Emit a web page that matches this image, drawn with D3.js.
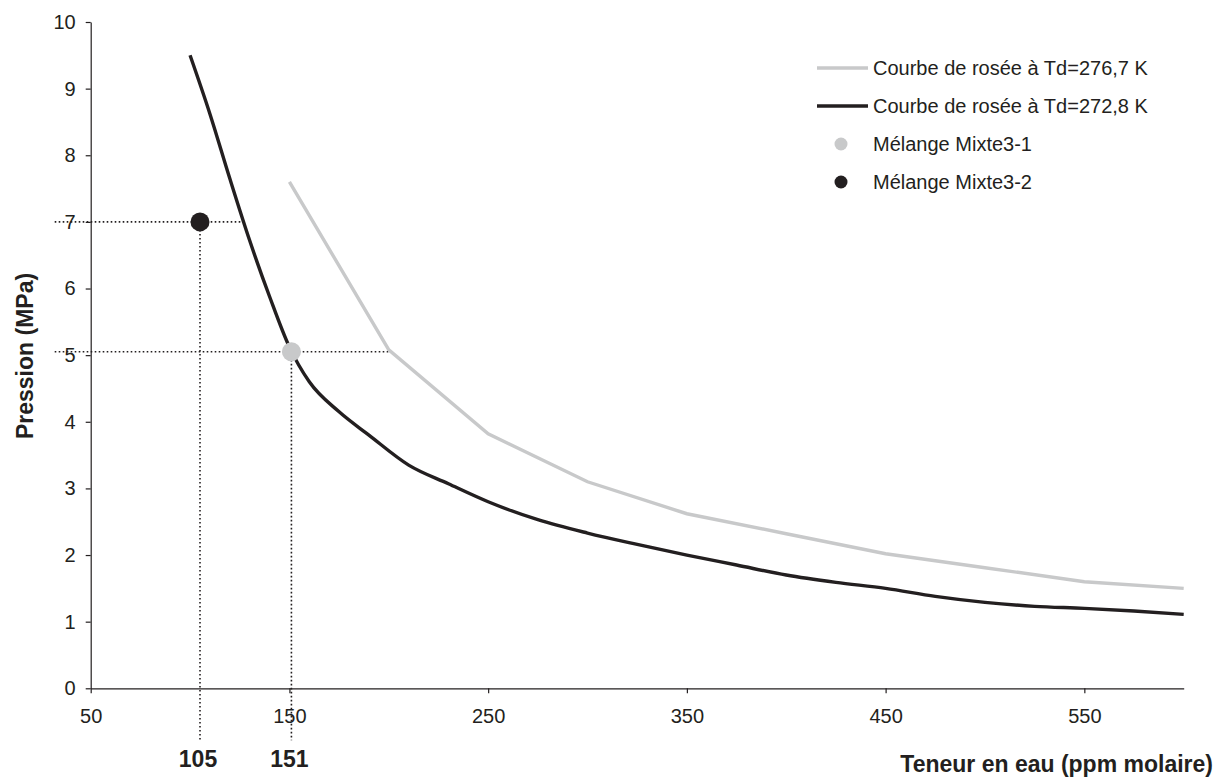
<!DOCTYPE html>
<html>
<head>
<meta charset="utf-8">
<script src="https://cdn.jsdelivr.net/npm/d3@7"></script>
<style>
  html, body { margin: 0; padding: 0; background: #ffffff; }
  svg { display: block; font-family: "Liberation Sans", Arial, sans-serif; }
</style>
</head>
<body>
<svg id="chart" width="1224" height="780"></svg>
<script>
// ---- data ----
const greyX = [150, 200, 250, 300, 350, 400, 450, 500, 550, 600];
const greyY = [7.6, 5.08, 3.82, 3.1, 2.62, 2.32, 2.02, 1.81, 1.6, 1.5];
const blackX = [100, 110, 120, 130, 140, 150, 160, 175, 190, 210, 230, 250, 275, 300, 325, 350, 375, 400, 425, 450, 475, 500, 525, 550, 575, 600];
const blackY = [9.5, 8.62, 7.65, 6.72, 5.88, 5.12, 4.6, 4.15, 3.8, 3.35, 3.07, 2.8, 2.53, 2.33, 2.16, 2.0, 1.85, 1.70, 1.59, 1.5, 1.38, 1.29, 1.23, 1.2, 1.16, 1.11];
const pointNames = ["Mélange Mixte3-1", "Mélange Mixte3-2"];
const pointX = [151, 105];
const pointY = [5.05, 7.0];
const seriesNames = ["Courbe de rosée à Td=276,7 K", "Courbe de rosée à Td=272,8 K"];
const xTicks = [50, 150, 250, 350, 450, 550];
const yTicks = [0, 1, 2, 3, 4, 5, 6, 7, 8, 9, 10];
const xTitle = "Teneur en eau (ppm molaire)";
const yTitle = "Pression (MPa)";

// ---- styles ----
const BLACK = "#231f20";
const GREY = "#c8c9ca";

const svg = d3.select("#chart");
const x = d3.scaleLinear().domain([50, 600]).range([90.7, 1183.7]);
const y = d3.scaleLinear().domain([0, 10]).range([688.3, 22]);

// axes
const xAxis = svg.append("g").attr("transform", `translate(0,${y(0)})`)
  .call(d3.axisBottom(x).tickValues(xTicks).tickSize(5).tickSizeOuter(0).tickPadding(16).tickFormat(d3.format("d")));
const yAxis = svg.append("g").attr("transform", `translate(${x(50)},0)`)
  .call(d3.axisLeft(y).tickValues(yTicks).tickSize(5).tickSizeOuter(0).tickPadding(10).tickFormat(d3.format("d")));
[xAxis, yAxis].forEach(g => {
  g.select(".domain").attr("stroke", BLACK).attr("stroke-width", 1.2);
  g.selectAll(".tick line").attr("stroke", BLACK).attr("stroke-width", 1.2);
  g.selectAll(".tick text").attr("fill", BLACK).style("font-size", "20px")
   .style("font-family", '"Liberation Sans", Arial, sans-serif');
});

// curves
const greyData = greyX.map((d, i) => [d, greyY[i]]);
const blackData = blackX.map((d, i) => [d, blackY[i]]);
const line = d3.line().x(d => x(d[0])).y(d => y(d[1]));
const smoothLine = d3.line().x(d => x(d[0])).y(d => y(d[1])).curve(d3.curveMonotoneX);

// interpolation helper: x where curve reaches value v (descending curve)
function xAt(data, v) {
  for (let i = 0; i < data.length - 1; i++) {
    const a = data[i], b = data[i + 1];
    if ((a[1] - v) * (b[1] - v) <= 0) {
      return a[0] + (v - a[1]) * (b[0] - a[0]) / (b[1] - a[1]);
    }
  }
  return data[data.length - 1][0];
}

// dotted guide lines
const guides = svg.append("g").attr("stroke", BLACK).attr("stroke-width", 1.6)
  .attr("stroke-dasharray", "1.6,2.4").attr("fill", "none");
const curveFor = [greyData, blackData];
pointX.forEach((px, i) => {
  const xEnd = xAt(curveFor[i], pointY[i]);
  guides.append("line").attr("x1", x(50) - 36).attr("x2", x(xEnd))
    .attr("y1", y(pointY[i])).attr("y2", y(pointY[i]));
  guides.append("line").attr("x1", x(px)).attr("x2", x(px))
    .attr("y1", y(pointY[i])).attr("y2", y(0) + 52);
});

svg.append("path").datum(greyData).attr("d", line)
  .attr("fill", "none").attr("stroke", GREY).attr("stroke-width", 3.4);
svg.append("path").datum(blackData).attr("d", smoothLine)
  .attr("fill", "none").attr("stroke", BLACK).attr("stroke-width", 3.4);

// points
const pointColors = [GREY, BLACK];
svg.append("g").selectAll("circle").data(pointX).join("circle")
  .attr("cx", d => x(d)).attr("cy", (d, i) => y(pointY[i])).attr("r", 9.5)
  .attr("fill", (d, i) => pointColors[i]);

// special x labels
svg.append("g").selectAll("text").data(pointX).join("text")
  .attr("x", d => x(d) - 2).attr("y", y(0) + 79).attr("text-anchor", "middle")
  .attr("fill", BLACK).style("font-size", "23px").style("font-weight", "bold")
  .text(d => d3.format("d")(d));

// axis titles
svg.append("text").attr("x", 1213).attr("y", 772).attr("text-anchor", "end")
  .attr("fill", BLACK).style("font-size", "23px").style("font-weight", "bold").text(xTitle);
svg.append("text").attr("transform", "translate(33,356) rotate(-90)").attr("text-anchor", "middle")
  .attr("fill", BLACK).style("font-size", "23px").style("font-weight", "bold").text(yTitle);

// legend
const legend = svg.append("g");
const rowY = [68, 106, 144, 182];
const lineColors = [GREY, BLACK];
seriesNames.forEach((name, i) => {
  legend.append("line").attr("x1", 817).attr("x2", 868).attr("y1", rowY[i]).attr("y2", rowY[i])
    .attr("stroke", lineColors[i]).attr("stroke-width", 3.4);
  legend.append("text").attr("x", 873).attr("y", rowY[i] + 7).attr("fill", BLACK)
    .style("font-size", "20px").text(name);
});
pointNames.forEach((name, i) => {
  legend.append("circle").attr("cx", 841).attr("cy", rowY[i + 2]).attr("r", 6.5).attr("fill", pointColors[i]);
  legend.append("text").attr("x", 873).attr("y", rowY[i + 2] + 7).attr("fill", BLACK)
    .style("font-size", "20px").text(name);
});
</script>
</body>
</html>
